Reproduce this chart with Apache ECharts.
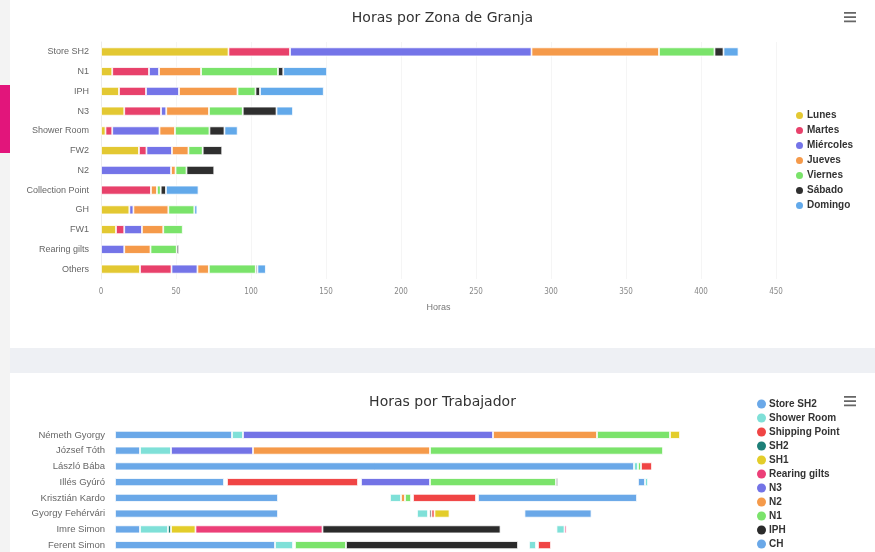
<!DOCTYPE html>
<html>
<head>
<meta charset="utf-8">
<script src="https://cdn.jsdelivr.net/npm/echarts@6/dist/echarts.min.js"></script>
<style>
html, body { margin: 0; padding: 0; width: 875px; height: 552px; overflow: hidden; background: #eef0f4; font-family: "Liberation Sans", sans-serif; }
#side { position: absolute; left: 0; top: 0; width: 10px; height: 552px; background: #f3f3f3; }
#pink { position: absolute; left: 0; top: 85px; width: 10px; height: 68px; background: #e2157b; }
#zonas { position: absolute; left: 10px; top: 0; width: 865px; height: 348px; background: #fff; }
#trabajador { position: absolute; left: 10px; top: 373px; width: 865px; height: 300px; background: #fff; }
</style>
</head>
<body>
<div id="side"></div>
<div id="pink"></div>
<div id="zonas"></div>
<div id="trabajador"></div>
<script>
// ---- Horas por Zona de Granja ----
var zonas = ["Store SH2", "N1", "IPH", "N3", "Shower Room", "FW2", "N2", "Collection Point", "GH", "FW1", "Rearing gilts", "Others"];
var dias = ["Lunes", "Martes", "Miércoles", "Jueves", "Viernes", "Sábado", "Domingo"];
var diaColores = ["#e3c832", "#e8416b", "#7474e8", "#f59a4a", "#7ae36a", "#2f2f2f", "#62a9ea"];
var lunes     = [85, 7.5, 12, 15.5, 3, 25.3, 0, 0, 18.9, 10, 0, 26];
var martes    = [41, 24.5, 18, 24.5, 4.5, 5, 0, 33.3, 0, 5.5, 0, 21];
var miercoles = [161, 6.7, 22, 3.5, 31.5, 17, 46.7, 0, 2.7, 11.8, 15.5, 17.3];
var jueves    = [85, 28, 39, 28.5, 10.3, 11, 3, 4, 23.3, 14.2, 17.5, 7.6];
var viernes   = [37, 51.3, 12, 22.5, 23, 9.5, 7.3, 2.5, 17.3, 13, 17.5, 31.3];
var sabado    = [6, 3.5, 3, 22.5, 10, 13, 18.5, 3.5, 0, 0, 1.5, 1.1];
var domingo   = [10, 29.2, 42.5, 11, 8.8, 0, 0, 21.7, 2, 0, 0, 5.6];
var porDia = [lunes, martes, miercoles, jueves, viernes, sabado, domingo];

// ---- Horas por Trabajador ----
var trabajadores = ["Németh Gyorgy", "József Tóth", "László Bába", "Illés Gyúró", "Krisztián Kardo", "Gyorgy Fehérvári", "Imre Simon", "Ferent Simon"];
var zonasTrab = ["Store SH2", "Shower Room", "Shipping Point", "SH2", "SH1", "Rearing gilts", "N3", "N2", "N1", "IPH", "CH", "GH", "FW2", "FW1", "Collection Point", "Others"];
var zonaColores = ["#6aa8e8", "#7fe0d8", "#f04545", "#1d7f78", "#e3cd2a", "#ec3f78", "#7373e6", "#f59a4a", "#7be36b", "#2b2b2b", "#6aa8e8", "#7fe0d8", "#f04545", "#1d7f78", "#e3cd2a", "#ec3f78"];
// tramos en orden; null = tiempo sin registrar
var nemeth  = [["Store SH2", 23.4], ["Shower Room", 2.2], ["N3", 50], ["N2", 20.8], ["N1", 14.6], ["SH1", 2]];
var jozsef  = [["Store SH2", 5], ["Shower Room", 6.2], ["N3", 16.4], ["N2", 35.4], ["N1", 46.6]];
var laszlo  = [["Store SH2", 103.8], ["Shower Room", 0.8], ["N1", 0.6], ["Shipping Point", 2.2]];
var illes   = [["Store SH2", 21.8], [null, 0.6], ["Shipping Point", 26.2], [null, 0.6], ["N3", 13.8], ["N1", 25.2], ["IPH", 0.4], [null, 16], ["CH", 1.4], ["Shower Room", 0.6]];
var krisztian = [["Store SH2", 32.6], [null, 22.4], ["Shower Room", 2.2], ["N2", 0.8], ["N1", 1.2], [null, 0.4], ["Shipping Point", 12.6], [null, 0.4], ["CH", 31.8]];
var gyorgy  = [["Store SH2", 32.6], [null, 27.8], ["Shower Room", 2.2], [null, 0.3], ["IPH", 0.4], ["Shipping Point", 0.6], ["SH1", 3], [null, 15], ["CH", 13.4]];
var imre    = [["Store SH2", 5], ["Shower Room", 5.6], ["SH2", 0.6], ["SH1", 4.9], ["Rearing gilts", 25.4], ["IPH", 35.6], [null, 11.2], ["Shower Room", 1.6], ["Rearing gilts", 0.4]];
var ferent  = [["Store SH2", 32], ["Shower Room", 3.6], [null, 0.4], ["N1", 10.2], ["IPH", 34.4], [null, 2.2], ["Shower Room", 1.4], [null, 0.4], ["Shipping Point", 2.6]];
var tramos = [nemeth, jozsef, laszlo, illes, krisztian, gyorgy, imre, ferent];

var menuIcon = "path://M0,0H20V3H0Z M0,7H20V10H0Z M0,14H20V17H0Z";
var labelFont = "Liberation Sans";

var chart1 = echarts.init(document.getElementById("zonas"));
var series1 = dias.map(function(d, i){
    return {
        name: d,
        type: "bar",
        stack: "total",
        barWidth: 9,
        itemStyle: { color: diaColores[i], borderColor: "#fff", borderWidth: 0.8 },
        data: porDia[i].map(function(v){ return v === 0 ? null : v; })
    };
});
chart1.setOption({
    animation: false,
    title: {
        text: "Horas por Zona de Granja",
        left: "center",
        top: 6,
        textStyle: { fontFamily: "DejaVu Sans", fontSize: 14, fontWeight: "normal", color: "#333" }
    },
    toolbox: {
        right: 4, top: -3, itemSize: 12,
        iconStyle: { color: "#666", borderColor: "#666", borderWidth: 0 },
        feature: { saveAsImage: { icon: menuIcon, title: "" } }
    },
    legend: {
        orient: "vertical",
        left: 784,
        top: 110,
        padding: 0,
        icon: "circle",
        itemWidth: 9,
        itemHeight: 9,
        itemGap: 4,
        textStyle: { fontFamily: labelFont, fontSize: 10, fontWeight: "bold", color: "#333", padding: [0, 0, 0, -2] },
        data: dias
    },
    grid: { left: 91, right: 99, top: 42, bottom: 69 },
    xAxis: {
        type: "value",
        min: 0,
        max: 450,
        interval: 50,
        name: "Horas",
        nameLocation: "middle",
        nameGap: 24,
        nameTextStyle: { fontFamily: labelFont, fontSize: 9, color: "#777" },
        axisLine: { show: false },
        axisTick: { show: false },
        axisLabel: { fontFamily: "DejaVu Sans Condensed", fontSize: 8, color: "#888", margin: 9 },
        splitLine: { lineStyle: { color: "#f5f5f5" } }
    },
    yAxis: {
        type: "category",
        inverse: true,
        data: zonas,
        axisLine: { lineStyle: { color: "#ececec" } },
        axisTick: { show: false },
        axisLabel: { fontFamily: labelFont, fontSize: 9, color: "#666", margin: 12 }
    },
    series: series1
});

var chart2 = echarts.init(document.getElementById("trabajador"));
var colorDe = {};
zonasTrab.forEach(function(z, i){ colorDe[z] = zonaColores[i]; });
var maxTramos = 0;
tramos.forEach(function(t){ maxTramos = Math.max(maxTramos, t.length); });
var series2 = [];
// series por zona: solo para la leyenda
zonasTrab.forEach(function(z){
    series2.push({ name: z, type: "bar", stack: "t", barWidth: 8, itemStyle: { color: colorDe[z] }, data: [] });
});
for (var k = 0; k < maxTramos; k++) {
    series2.push({
        name: "tramo" + k,
        type: "bar",
        stack: "t",
        barWidth: 8,
        data: tramos.map(function(t){
            var s = t[k];
            if (!s) return null;
            var c = s[0] ? colorDe[s[0]] : "rgba(0,0,0,0)";
            return { value: s[1], itemStyle: { color: c, borderColor: s[0] ? "#fff" : "rgba(0,0,0,0)", borderWidth: 0.8 } };
        })
    });
}
chart2.setOption({
    animation: false,
    title: {
        text: "Horas por Trabajador",
        left: "center",
        top: 17,
        textStyle: { fontFamily: "DejaVu Sans", fontSize: 14, fontWeight: "normal", color: "#333" }
    },
    toolbox: {
        right: 4, top: 8, itemSize: 12,
        iconStyle: { color: "#666", borderColor: "#666", borderWidth: 0 },
        feature: { saveAsImage: { icon: menuIcon, title: "" } }
    },
    legend: {
        orient: "vertical",
        left: 747,
        top: 26,
        padding: 0,
        icon: "circle",
        itemWidth: 9,
        itemHeight: 9,
        itemGap: 4,
        textStyle: { fontFamily: labelFont, fontSize: 10, fontWeight: "bold", color: "#333", padding: [0, 0, 0, -2] },
        data: zonasTrab
    },
    grid: { left: 105, right: 160, top: 54, height: 126 },
    xAxis: {
        type: "value",
        min: 0,
        max: 120,
        axisLine: { show: false },
        axisTick: { show: false },
        axisLabel: { show: false },
        splitLine: { show: false }
    },
    yAxis: {
        type: "category",
        inverse: true,
        data: trabajadores,
        axisLine: { show: false },
        axisTick: { show: false },
        axisLabel: { fontFamily: labelFont, fontSize: 9.5, color: "#666", margin: 10 }
    },
    series: series2
});
</script>
</body>
</html>
